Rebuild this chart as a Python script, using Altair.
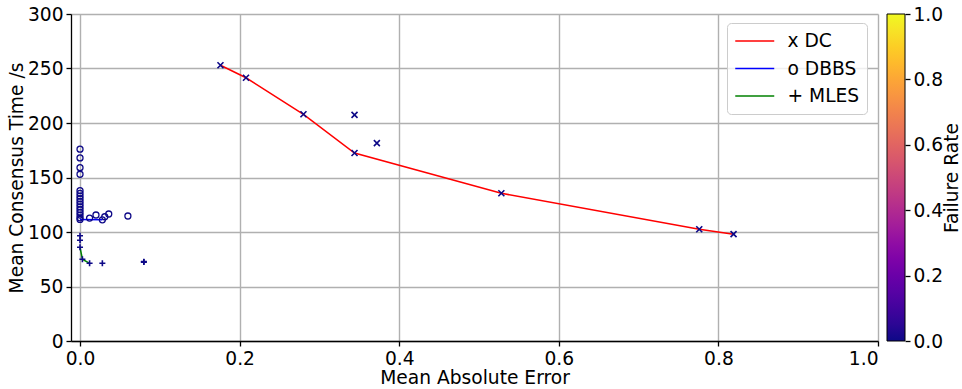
import altair as alt
import pandas as pd

# Mean absolute error / mean consensus time for each algorithm configuration
dc_mae = [0.176, 0.208, 0.280, 0.344, 0.344, 0.372, 0.528, 0.776, 0.819]
dc_time = [253.0, 241.5, 208.0, 207.5, 172.5, 181.5, 135.5, 102.5, 98.0]
dc_fail = [0.0, 0.0, 0.0, 0.0, 0.0, 0.0, 0.0, 0.0, 0.0]
dc_front = [True, True, True, False, True, False, True, True, True]

dbbs_mae = [0.0, 0.0, 0.0, 0.0, 0.0, 0.0, 0.0, 0.0, 0.0, 0.0, 0.0,
            0.0, 0.0, 0.0, 0.0, 0.0, 0.012, 0.020, 0.028, 0.031, 0.036, 0.060]
dbbs_time = [176.0, 168.0, 159.0, 153.0, 138.0, 135.5, 133.0, 130.5, 128.0, 125.5, 123.0,
             120.5, 118.0, 115.5, 113.0, 111.5, 112.8, 115.6, 111.2, 114.0, 116.5, 114.7]
dbbs_fail = [0.0, 0.0, 0.0, 0.0, 0.0, 0.0, 0.0, 0.0, 0.0, 0.0, 0.0,
             0.0, 0.0, 0.0, 0.0, 0.0, 0.0, 0.0, 0.0, 0.0, 0.0, 0.0]
dbbs_front = [False, False, False, False, False, False, False, False, False, False, False,
              False, False, False, False, True, False, False, True, False, False, False]

mles_mae = [0.0, 0.0, 0.0, 0.003, 0.012, 0.028, 0.080, 0.080]
mles_time = [96.5, 92.5, 86.0, 75.0, 71.3, 71.3, 72.8, 72.4]
mles_fail = [0.0, 0.0, 0.0, 0.0, 0.0, 0.0, 0.0, 0.0]
mles_front = [False, False, True, True, True, False, False, False]

algo_names = ["x DC", "o DBBS", "+ MLES"]
algo_colors = ["#ff0000", "#0000ff", "#008000"]

fail_ticks = [0.0, 0.2, 0.4, 0.6, 0.8, 1.0]

FONT = "DejaVu Sans"
FS = 18.67


def frame(mae, time, fail, front, name):
    return pd.DataFrame({"mae": mae, "time": time, "fail": fail,
                         "front": front, "algo": name})


dc = frame(dc_mae, dc_time, dc_fail, dc_front, algo_names[0])
dbbs = frame(dbbs_mae, dbbs_time, dbbs_fail, dbbs_front, algo_names[1])
mles = frame(mles_mae, mles_time, mles_fail, mles_front, algo_names[2])

x_enc = alt.X("mae:Q", title="Mean Absolute Error",
              scale=alt.Scale(domain=[-0.0113, 1.0], nice=False, zero=False),
              axis=alt.Axis(values=[0.0, 0.2, 0.4, 0.6, 0.8, 1.0], format=".1f"))
y_enc = alt.Y("time:Q", title="Mean Consensus Time /s",
              scale=alt.Scale(domain=[0, 300], nice=False),
              axis=alt.Axis(orient="left", values=[0, 50, 100, 150, 200, 250, 300]))

# legend swatch: a line twice as long as the nominal symbol width, starting at its left edge
SWATCH = "M-1,0L3,0"

stroke_enc = alt.Stroke(
    "algo:N",
    scale=alt.Scale(domain=algo_names, range=algo_colors),
    legend=alt.Legend(
        title=None, orient="none", legendX=656, legendY=9,
        symbolType=SWATCH, symbolSize=380, symbolStrokeWidth=1.5,
        labelFontSize=FS, labelFont=FONT, labelColor="black", labelOffset=32,
        rowPadding=6.5, padding=7.5, fillColor="rgba(255,255,255,0.8)",
        strokeColor="#cccccc", cornerRadius=4,
    ),
)

# gradient of the colour bar; its ticks and labels come from the right-hand axis
color_enc = alt.Color(
    "fail:Q",
    scale=alt.Scale(scheme="plasma", domain=[0, 1]),
    legend=alt.Legend(
        title=None, orient="none", legendX=816, legendY=0,
        direction="vertical", gradientLength=327, gradientThickness=18,
        gradientStrokeColor="black", gradientStrokeWidth=1,
        values=fail_ticks, labelOpacity=0, labelFontSize=1, padding=0,
    ),
)


def front_line(df):
    return alt.Chart(df).transform_filter("datum.front").mark_line(
        strokeWidth=1.5
    ).encode(x=x_enc, y=y_enc, stroke=stroke_enc, order="mae:Q")


X_PATH = "M-1,-1L1,1M-1,1L1,-1"
PLUS_PATH = "M-1,0L1,0M0,-1L0,1"

dc_pts = alt.Chart(dc).mark_point(shape=X_PATH, filled=False, size=36, strokeWidth=1.6,
                                  opacity=1).encode(x=x_enc, y=y_enc, color=color_enc)
dbbs_pts = alt.Chart(dbbs).mark_point(shape="circle", filled=False, size=36, strokeWidth=1.3,
                                      opacity=1).encode(x=x_enc, y=y_enc, color=color_enc)
mles_pts = alt.Chart(mles).mark_point(shape=PLUS_PATH, filled=False, size=36, strokeWidth=1.6,
                                      opacity=1).encode(x=x_enc, y=y_enc, color=color_enc)

main = alt.layer(
    front_line(dc), front_line(dbbs), front_line(mles),
    dc_pts, dbbs_pts, mles_pts,
)

# colour-bar scale: failure rate from 0 to 1 along the gradient
cbar_axis = alt.Chart(dc).mark_point(opacity=0).encode(
    x=x_enc,
    y=alt.Y("fail:Q", title="Failure Rate",
            scale=alt.Scale(domain=[0, 1], nice=False),
            axis=alt.Axis(orient="right", offset=27, values=fail_ticks, format=".1f",
                          grid=False, domain=False, titleAngle=270, titlePadding=19)),
)

chart = alt.layer(main, cbar_axis).resolve_scale(
    y="independent"
).properties(
    width=807, height=327,
    autosize=alt.AutoSizeParams(type="none"),
    padding={"left": 71, "top": 14, "right": 84, "bottom": 48},
).configure_view(
    stroke=None
).configure_axis(
    labelFont=FONT, labelFontSize=FS, labelColor="black",
    titleFont=FONT, titleFontSize=FS, titleColor="black", titleFontWeight="normal",
    domainColor="black", domainWidth=1.3, tickColor="black", tickWidth=1.3, tickSize=5,
    gridColor="#b0b0b0", gridWidth=1.4, labelPadding=3,
).configure_axisX(
    titlePadding=1
).configure_axisLeft(
    titlePadding=1
)

chart.save("out.html", embed_options={"renderer": "svg", "actions": False})
